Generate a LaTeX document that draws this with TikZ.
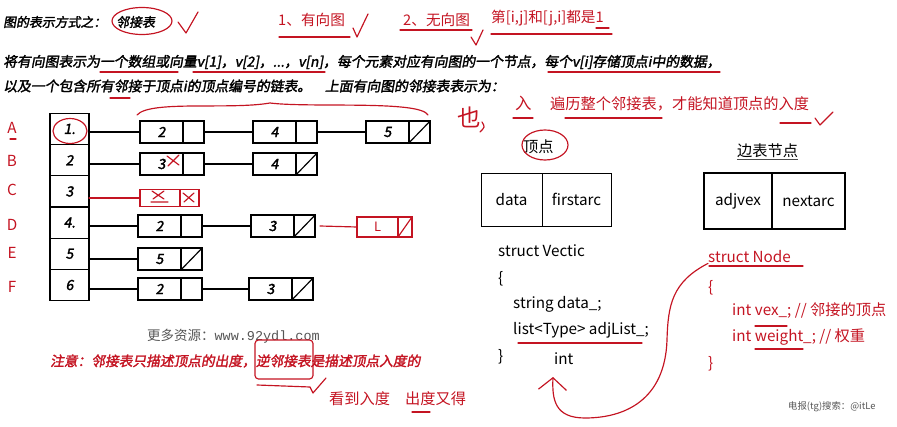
\documentclass[tikz,border=0pt]{standalone}
\usepackage{fontspec}
\setmainfont{Noto Sans CJK SC}
\newfontfamily\cjkbi[FakeSlant=0.18,FakeBold=2]{Noto Sans CJK SC}
\newfontfamily\wmono{Liberation Mono}
\usetikzlibrary{positioning,arrows.meta,calc}
\definecolor{hred}{RGB}{196,20,34}
\definecolor{wgray}{RGB}{85,85,85}
\newcommand{\fsz}[1]{\fontsize{#1}{#1}\selectfont}

\begin{document}
\begin{tikzpicture}[x=0.03cm, y=-0.03cm,
  txt/.style={anchor=west, inner sep=0pt},
  bi/.style={txt, font=\cjkbi\fsz{11}},
  rt/.style={txt, text=hred, font=\fsz{12.5}},
  code/.style={txt, font=\fsz{13}},
  rl/.style={text=hred, inner sep=0pt, font=\fsz{13}},
  cell/.style={draw, line width=1pt, minimum width=1.17cm, minimum height=0.936cm,
    inner sep=0pt, outer sep=0pt, font=\cjkbi\fsz{12}},
  fld/.style={draw, line width=1.3pt, minimum width=1.29cm, minimum height=0.65cm,
    inner sep=0pt, outer sep=0pt, font=\cjkbi\fsz{12}},
  ptr/.style={fld, minimum width=0.63cm},
  nil/.style={ptr, path picture={\draw[line width=1pt]
    (path picture bounding box.south west) -- (path picture bounding box.north east);}},
  rfld/.style={draw=hred, line width=1pt, minimum width=1.2cm, minimum height=0.51cm,
    inner sep=0pt, outer sep=0pt, text=hred, font=\fsz{11}},
  ln/.style={line width=1pt},
  rd/.style={hred, line width=1pt, line cap=round, line join=round},
  recf/.style={draw, line width=0.8pt, minimum height=1.59cm, inner sep=0pt,
    outer sep=0pt, font=\fsz{13}}
]
\useasboundingbox (0,0) rectangle (897,427);

% title line
\node[bi] (ttl) at (3,22) {图的表示方式之：};
\node[bi] (ljb) at (116,22) {邻接表};
\draw[rd] (142,21) ellipse [x radius=30, y radius=13.5];
\draw[rd] (178,22) -- (186,33) -- (198,12);
\node[rt] (dg) at (278,20) {1、有向图};
\draw[rd] (279,37) -- (350,37);
\draw[rd] (353,28) -- (357,37) -- (368,14);
\node[rt] (ug) at (403,20) {2、无向图};
\draw[rd] (400,30) -- (472,30);
\draw[rd] (471,37) -- (476,45) -- (483,30);
\node[rt] (sym) at (491,18) {第[i,j]和[j,i]都是1};
\draw[rd] (491,34) -- (612,34);
\draw[rd] (596,28) -- (609,28);

% description
\node[bi, font=\cjkbi\fsz{11.8}] (l1) at (3,62) {将有向图表示为一个数组或向量v[1]，v[2]，...，v[n]，每个元素对应有向图的一个节点，每个v[i]存储顶点i中的数据，};
\node[bi, font=\cjkbi\fsz{11.8}] (l2) at (3,86) {以及一个包含所有邻接于顶点i的顶点编号的链表。\quad 上面有向图的邻接表表示为：};
\draw[rd] (100,72) -- (178,72);
\draw[rd] (193,72) -- (325,72);
\draw[rd] (548,72) -- (720,72);
\draw[rd] (110,98) -- (130,98);

% vertex array
\node[cell] (v1) at (69.5,129) {1.};
\node[cell, below=0pt of v1] (v2) {2};
\node[cell, below=0pt of v2] (v3) {3};
\node[cell, below=0pt of v3] (v4) {4.};
\node[cell, below=0pt of v4] (v5) {5};
\node[cell, below=0pt of v5] (v6) {6};
\draw[rd] (70,131) ellipse [x radius=17, y radius=12.5];

\node[rl] (la) at (12,128) {A};
\node[rl] (lb) at (12,161) {B};
\node[rl] (lc) at (12,190) {C};
\node[rl] (ld) at (12,225) {D};
\node[rl] (le) at (12,253) {E};
\node[rl] (lf) at (12,287) {F};
\draw[rd] (10,139) -- (16,139);

% row A
\node[fld, anchor=west] (a1) at (140,132) {2};
\node[ptr, right=0pt of a1] (a1p) {};
\node[fld, anchor=west] (a2) at (253,132) {4};
\node[ptr, right=0pt of a2] (a2p) {};
\node[fld, anchor=west] (a3) at (366,132) {5};
\node[nil, right=0pt of a3] (a3p) {};
\draw[ln] (a1.west) -- (a1.west -| v1.east);
\draw[ln] (a1p) -- (a2); \draw[ln] (a2p) -- (a3);
\draw[rd] (137,115) .. controls (150,100) and (230,110) .. (270,103)
  .. controls (310,108) and (420,100) .. (428,115);

% row B
\node[fld, anchor=west] (b1) at (140,164) {3};
\node[ptr, right=0pt of b1] (b1p) {};
\node[fld, anchor=west] (b2) at (253,164) {4};
\node[nil, right=0pt of b2] (b2p) {};
\draw[ln] (b1.west) -- (b1.west -| v2.east);
\draw[ln] (b1p) -- (b2);
\draw[rd] (167,156) -- (179,165) (179,155) -- (168,166);

% row C
\node[rfld, anchor=west] (c1) at (140,198) {};
\node[rfld, minimum width=0.57cm, right=0pt of c1] (c1p) {};
\draw[rd] (c1.west) -- (c1.west -| v3.east);
\draw[rd] (152,191) -- (164,199) (164,191) -- (153,199) (151,202) -- (168,202);
\draw[rd] (183,193) -- (194,202) (194,193) -- (184,202);

% row D
\node[fld, anchor=west] (d1) at (138,226) {2};
\node[ptr, right=0pt of d1] (d1p) {};
\node[fld, anchor=west] (d2) at (251,226) {3};
\node[nil, right=0pt of d2] (d2p) {};
\draw[ln] (d1.west) -- (d1.west -| v4.east);
\draw[ln] (d1p) -- (d2);
\node[rfld, minimum width=1.23cm, minimum height=0.6cm, anchor=west] (d3) at (357,227) {L};
\node[rfld, minimum width=0.42cm, minimum height=0.6cm, right=0pt of d3,
  path picture={\draw[rd] (path picture bounding box.south west) -- (path picture bounding box.north east);}] (d3p) {};
\draw[rd] ($(d2p.east)+(5,0)$) -- (d3.west);

% row E
\node[fld, anchor=west] (e1) at (138,259) {5};
\node[nil, right=0pt of e1] (e1p) {};
\draw[ln] (e1.west) -- (e1.west -| v5.east);

% row F
\node[fld, anchor=west] (f1) at (138,289) {2};
\node[ptr, right=0pt of f1] (f1p) {};
\node[fld, anchor=west] (f2) at (249,289) {3};
\node[nil, right=0pt of f2] (f2p) {};
\draw[ln] (f1.west) -- (f1.west -| v6.east);
\draw[ln] (f1p) -- (f2);

% in-degree remark
\node[txt, text=hred, font=\fsz{20}] (ye) at (457,117) {也};
\draw[rd] (482,122) .. controls (485,127) .. (480,132);
\node[txt, text=hred, font=\fsz{14}] (ru) at (515,103) {入};
\draw[rd] (513,118) -- (533,118);
\node[rt, font=\fsz{13}] (trav) at (550,104) {遍历整个邻接表，才能知道顶点的入度};
\draw[rd] (565,118) -- (662,118);
\draw[rd] (780,123) -- (811,123);
\draw[rd] (815,118) -- (820,125) -- (833,112);

% node layouts
\node[code] (vt) at (523,147) {顶点};
\draw[rd] (545,145) ellipse [x radius=23, y radius=15];
\node[code] (et) at (737,151) {边表节点};
\draw[line width=0.6pt, black!70] (737,159) -- (798,159);
\node[recf, minimum width=1.83cm, anchor=west] (vd) at (481,199.5) {data};
\node[recf, minimum width=2.07cm, right=0pt of vd] (vf) {firstarc};
\node[recf, line width=1.5pt, minimum width=2.04cm, minimum height=1.68cm,
  anchor=west] (ea) at (704,201) {adjvex};
\node[recf, line width=1.5pt, minimum width=2.19cm, minimum height=1.68cm,
  right=0pt of ea] (en) {nextarc};

% struct Vectic
\node[code] (sv) at (498,251) {struct Vectic};
\node[code] (sv1) at (498,279) {\{};
\node[code] (sv2) at (513,304) {string data\_;};
\node[code] (sv3) at (513,330) {list<Type> adjList\_;};
\node[code] (sv4) at (498,357) {\}};
\node[code] (int) at (554,359) {int};
\draw[rd] (518,343) -- (642,343);

% struct Node
\node[code, text=hred] (sn) at (708,257) {struct Node};
\draw[rd] (709,266) -- (803,266);
\node[code, text=hred] (sn1) at (708,288) {\{};
\node[code, text=hred] (sn2) at (732,311) {int vex\_; // 邻接的顶点};
\node[code, text=hred] (sn3) at (732,337) {int weight\_; // 权重};
\node[code, text=hred] (sn4) at (708,364) {\}};
\draw[rd] (755,326) -- (787,326);
\draw[rd] (755,349) -- (803,349);
\coordinate (tip) at (553,377);
\draw[rd, -{Straight Barb[length=0.36cm, width=0.84cm]}] (sn.south west)
  .. controls (672,282) and (668,305) .. (667,340)
  .. controls (665,400) and (625,418) .. (585,418)
  .. controls (555,418) and (552,400) .. (tip);

% note
\node[txt, text=wgray, font=\fsz{11.5}] (wm) at (147,336) {更多资源：{\wmono www.92ydl.com}};
\node[bi, text=hred, font=\cjkbi\fsz{11.7}] (note) at (50,361) {注意：邻接表只描述顶点的出度，逆邻接表是描述顶点入度的};
\draw[rd, rounded corners=3pt] (255,340) rectangle (313,379);
\draw[rd] (257,385) -- (310,387) -- (313,393) -- (326,378);
\node[rt, font=\fsz{13}] (see) at (329,399) {看到入度};
\node[rt, font=\fsz{13}] (out) at (405,399) {出度又得};
\draw[rd] (412,412) -- (430,412);
\node[txt, text=wgray, font=\fsz{8}] (tg) at (788,407) {电报(tg)搜索：@itLe};
\end{tikzpicture}
\end{document}
